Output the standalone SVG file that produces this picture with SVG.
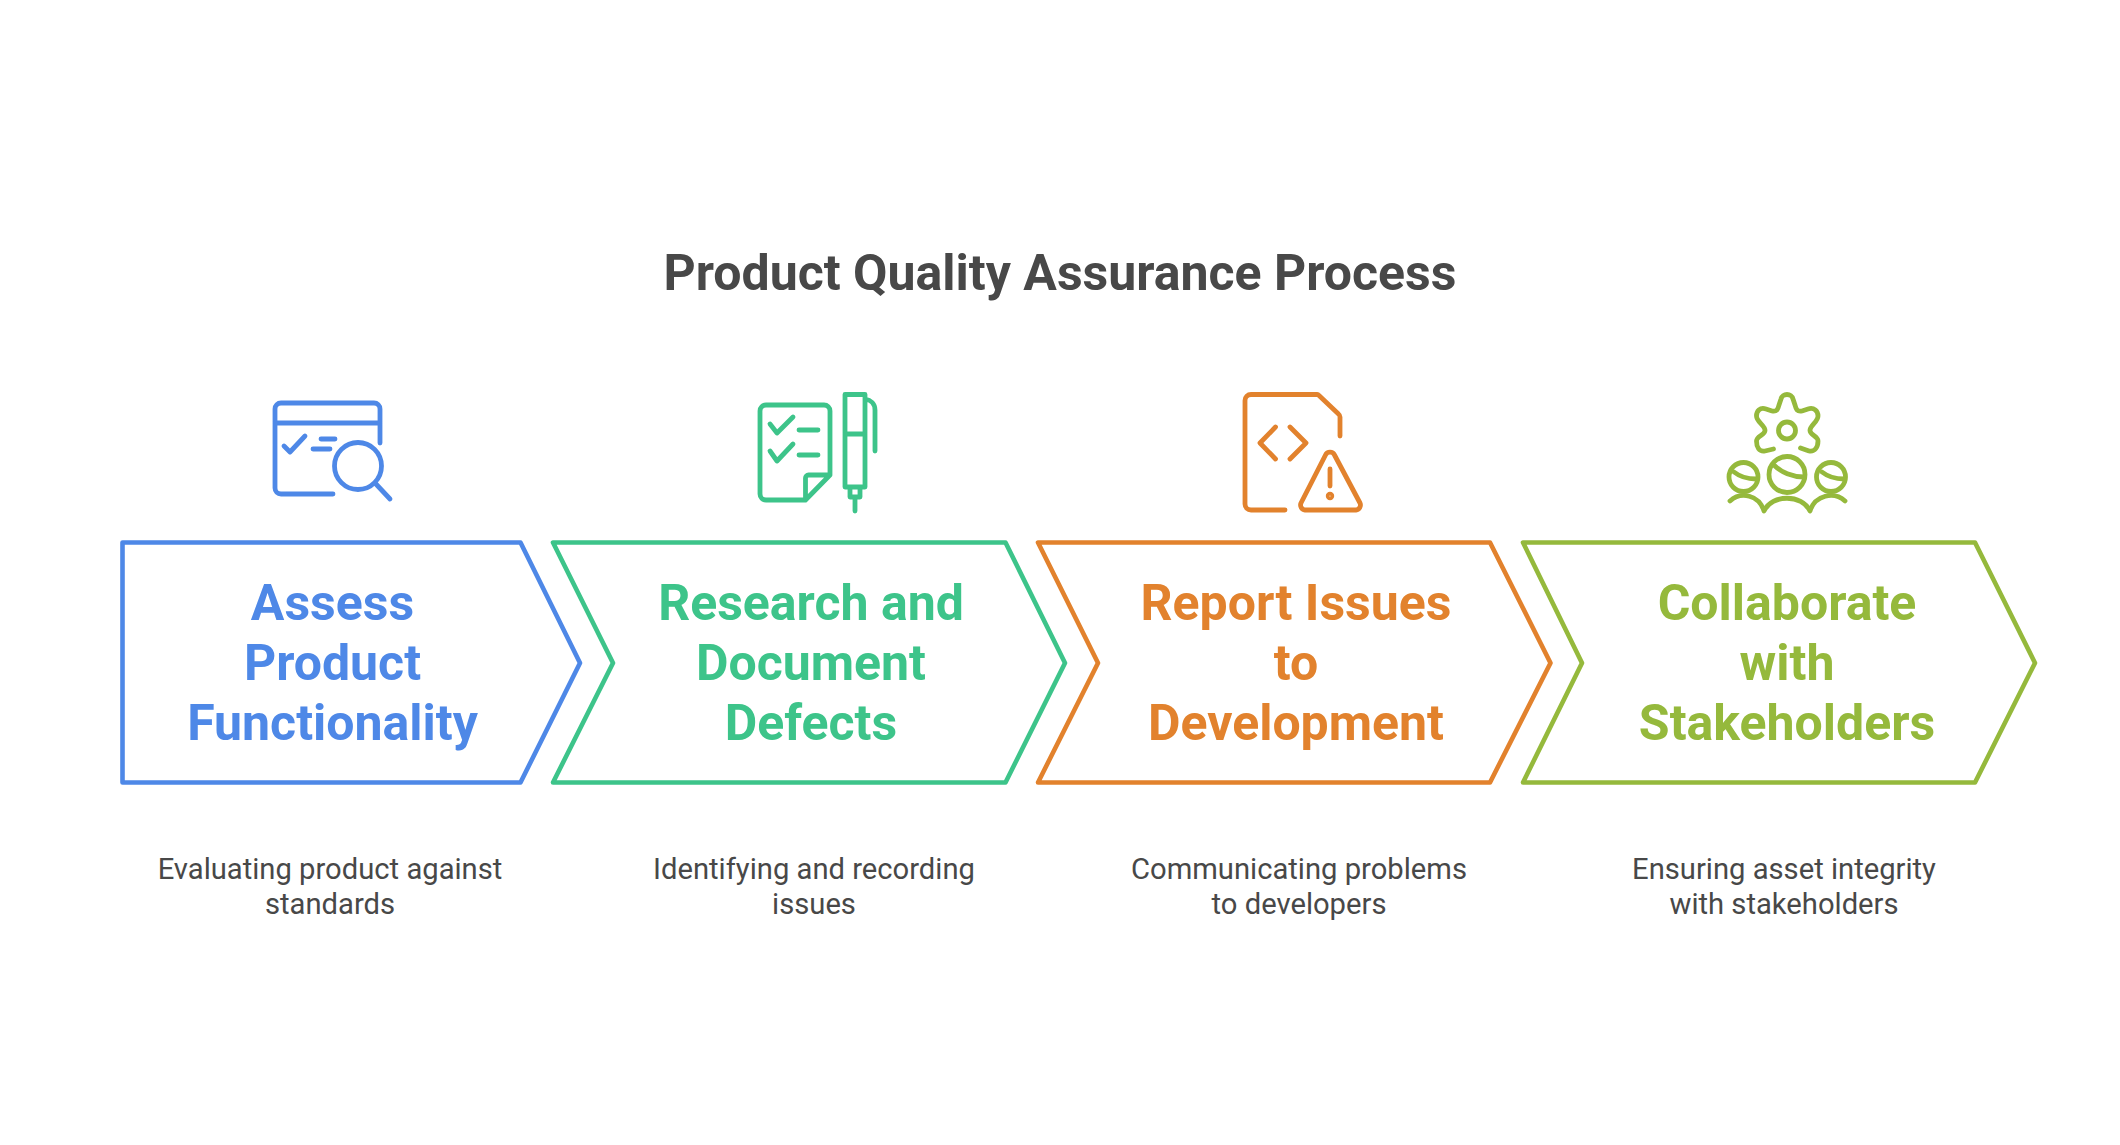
<svg xmlns="http://www.w3.org/2000/svg" width="2120" height="1145" viewBox="0 0 2120 1145">
<style>
text{font-family:Roboto,"Liberation Sans",sans-serif;text-anchor:middle}
.title{font-size:50px;font-weight:700;fill:#484848}
.head{font-size:50px;font-weight:700}
.desc{font-size:29.200px;fill:#484848}
.chev{fill:#fff;stroke-width:4.600;stroke-linejoin:round}
.ic{fill:none;stroke-width:4.800;stroke-linecap:round;stroke-linejoin:round}
.blue{stroke:#4E88E7}.green{stroke:#3DC48A}.orange{stroke:#E2822D}.olive{stroke:#95B93C}
.fb{fill:#4E88E7}.fg{fill:#3DC48A}.fo{fill:#E2822D}.fl{fill:#95B93C}
</style>
<rect width="2120" height="1145" fill="#fff"/>
<text class="title" x="1060" y="290">Product Quality Assurance Process</text>
<g id="node-assess">
<path class="chev blue" d="M122.500 542.500H520.500L580 663L520.500 782.500H122.500Z"/>
<text class="head fb"><tspan x="332.500" y="620">Assess</tspan><tspan x="332.500" y="680">Product</tspan><tspan x="332.500" y="740">Functionality</tspan></text>
<g class="ic blue">
<path d="M333 494H281a6 6 0 0 1-6-6V409a6 6 0 0 1 6-6H374a6 6 0 0 1 6 6V443M275 423H380"/>
<path d="M284 446L290 452L305 436M321 439H335M313 449H330"/>
<circle cx="358" cy="466" r="23.500"/><path d="M375 483L390 499"/>
</g>
<text class="desc"><tspan x="330" y="879">Evaluating product against</tspan><tspan x="330" y="914">standards</tspan></text>
</g>
<g id="node-research">
<path class="chev green" d="M553 542.500H1005.500L1065 663L1005.500 782.500H553L613 663Z"/>
<text class="head fg"><tspan x="811" y="620">Research and</tspan><tspan x="811" y="680">Document</tspan><tspan x="811" y="740">Defects</tspan></text>
<g class="ic green">
<path d="M805.500 500H766a6 6 0 0 1-6-6V411a6 6 0 0 1 6-6H824a6 6 0 0 1 6 6V475L805.500 500V478a3 3 0 0 1 3-3H830"/>
<path d="M770 424L777 433L793 417M770 451L777 461L793 444M799 430H818M799 455H818"/>
<path d="M845 394.500H865V487H845ZM845 434H865M865 399C871 400 875 404 875 410V451M850 487V497H860V487M855 497V511"/>
</g>
<text class="desc"><tspan x="814" y="879">Identifying and recording</tspan><tspan x="814" y="914">issues</tspan></text>
</g>
<g id="node-report">
<path class="chev orange" d="M1038 542.500H1490L1550.500 663L1490 782.500H1038L1098 663Z"/>
<text class="head fo"><tspan x="1296" y="620">Report Issues</tspan><tspan x="1296" y="680">to</tspan><tspan x="1296" y="740">Development</tspan></text>
<g class="ic orange">
<path d="M1285 510H1251a6 6 0 0 1-6-6V400.500a6 6 0 0 1 6-6H1317a3 3 0 0 1 2 1L1338.500 414a4 4 0 0 1 1.500 3V436"/>
<path d="M1275.500 427L1260 443L1275.500 459M1290 427L1306 443L1290 459"/>
<path d="M1325.500 455a5 5 0 0 1 9 0L1360 503a5 5 0 0 1-4 7H1305a5 5 0 0 1-4-7ZM1330 469V486"/>
<circle cx="1330" cy="496" r="1.800"/>
</g>
<text class="desc"><tspan x="1299" y="879">Communicating problems</tspan><tspan x="1299" y="914">to developers</tspan></text>
</g>
<g id="node-collaborate">
<path class="chev olive" d="M1523 542.500H1975L2035 663L1975 782.500H1523L1582 663Z"/>
<text class="head fl"><tspan x="1787" y="620">Collaborate</tspan><tspan x="1787" y="680">with</tspan><tspan x="1787" y="740">Stakeholders</tspan></text>
<g class="ic olive">
<path d="M1773.500 449L1765 451C1759 452 1756.500 447 1756.500 441C1756.500 436 1765 435 1765 430.500C1765 425 1756.500 422 1756.500 416C1756.500 411 1760 407 1766 409L1772 411C1777 412 1778 409 1779 405L1781 399C1782 393 1792 393 1793 399L1795 405C1796 409 1797 412 1802 411L1808 409C1814 407 1818 411 1818 416C1818 422 1810 425 1810 430.500C1810 435 1818 436 1818 441C1818 447 1815 452 1809 451L1800.500 448"/>
<circle cx="1787" cy="430.500" r="8.500"/>
<circle cx="1787" cy="474.500" r="18"/><circle cx="1743.500" cy="477" r="14.500"/><circle cx="1831" cy="477" r="14.500"/>
<path d="M1775 466C1781 472 1792 477 1804 477M1734 472C1739 476 1746 479 1756 479M1822 472C1827 476 1834 479 1844 479"/>
<path d="M1730 501C1741 491 1759 495 1764 511C1772 494 1802 494 1810 511C1815 495 1834 491 1845 501"/>
</g>
<text class="desc"><tspan x="1784" y="879">Ensuring asset integrity</tspan><tspan x="1784" y="914">with stakeholders</tspan></text>
</g>
<g id="connectors"></g>
</svg>
